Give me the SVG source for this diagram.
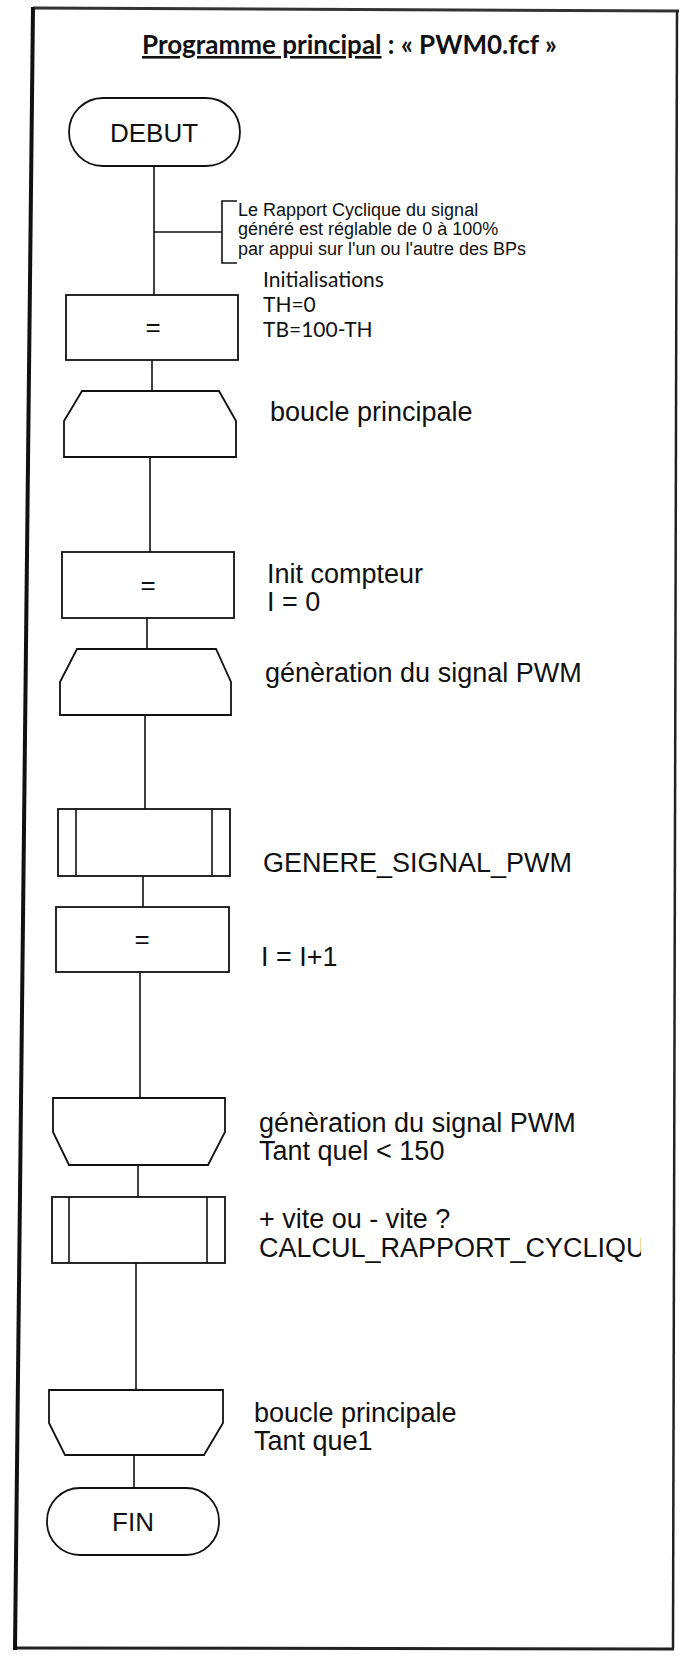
<svg xmlns="http://www.w3.org/2000/svg" width="680" height="1659" viewBox="0 0 680 1659">
<style>
.shape{fill:#fff;stroke:#111;stroke-width:1.8}
.conn{fill:none;stroke:#111;stroke-width:1.6}
.lbl{font-family:"Liberation Sans",Arial,sans-serif;font-size:27px;fill:#111}
.cmt{font-family:"Liberation Sans",Arial,sans-serif;font-size:18px;fill:#111}
.cal{font-family:Lato,"Open Sans",sans-serif;font-size:21px;fill:#111}
.ctr{font-family:"Liberation Sans",Arial,sans-serif;fill:#111;text-anchor:middle}
</style>
<defs>
<clipPath id="clipR"><rect x="0" y="0" width="641" height="1659"/></clipPath>
</defs>
<rect x="0" y="0" width="680" height="1659" fill="#fff"/>
<g id="frame">
<line x1="33" y1="8" x2="679" y2="11" stroke="#333" stroke-width="3"/>
<line x1="677" y1="10" x2="673" y2="1648" stroke="#222" stroke-width="2.5"/>
<line x1="15" y1="1648" x2="674" y2="1649" stroke="#222" stroke-width="3"/>
<line x1="33" y1="7" x2="15" y2="1650" stroke="#111" stroke-width="4"/>
</g>
<g id="title">
<text x="142" y="54" font-family="Lato,'Open Sans',sans-serif" font-size="26" font-weight="bold" fill="#111"><tspan text-decoration="underline">Programme principal</tspan> : « PWM0.fcf »</text>
</g>
<g id="connectors">
<line class="conn" x1="154" y1="166" x2="154" y2="295"/>
<line class="conn" x1="154" y1="232" x2="222" y2="232"/>
<line class="conn" x1="152" y1="360" x2="152" y2="391"/>
<line class="conn" x1="150" y1="457" x2="150" y2="552"/>
<line class="conn" x1="147" y1="618" x2="147" y2="649"/>
<line class="conn" x1="145" y1="715" x2="145" y2="809"/>
<line class="conn" x1="143" y1="876" x2="143" y2="907"/>
<line class="conn" x1="140" y1="972" x2="140" y2="1098"/>
<line class="conn" x1="138" y1="1165" x2="138" y2="1197"/>
<line class="conn" x1="136" y1="1263" x2="136" y2="1390"/>
<line class="conn" x1="134" y1="1455" x2="134" y2="1488"/>
</g>
<g id="debut">
<rect class="shape" x="69" y="98" width="171" height="68" rx="34"/>
<text class="ctr" x="154" y="142" font-size="26">DEBUT</text>
</g>
<g id="comment">
<path class="conn" d="M237,201 H222 V263 H237"/>
<text class="cmt" x="238" y="216">Le Rapport Cyclique du signal</text>
<text class="cmt" x="238" y="235">généré est réglable de 0 à 100%</text>
<text class="cmt" x="238" y="255">par appui sur l'un ou l'autre des BPs</text>
</g>
<g id="init">
<rect class="shape" x="66" y="295" width="172" height="65"/>
<text class="ctr" x="153" y="336" font-size="26">=</text>
<text class="cal" x="263" y="287">Initialisations</text>
<text class="cal" x="263" y="312">TH=0</text>
<text class="cal" x="263" y="337">TB=100-TH</text>
</g>
<g id="loop1-start">
<path class="shape" d="M82,391 H219 L236,421 V457 H64 V421 Z"/>
<text class="lbl" x="270" y="421">boucle principale</text>
</g>
<g id="init-compteur">
<rect class="shape" x="62" y="552" width="172" height="66"/>
<text class="ctr" x="148" y="594" font-size="26">=</text>
<text class="lbl" x="267" y="583">Init compteur</text>
<text class="lbl" x="267" y="611">I = 0</text>
</g>
<g id="loop2-start">
<path class="shape" d="M77,649 H216 L231,682 V715 H60 V682 Z"/>
<text class="lbl" x="265" y="682">génèration du signal PWM</text>
</g>
<g id="genere">
<rect class="shape" x="58" y="809" width="172" height="67"/>
<line class="conn" x1="76" y1="809" x2="76" y2="876"/>
<line class="conn" x1="212" y1="809" x2="212" y2="876"/>
<text class="lbl" x="263" y="872">GENERE_SIGNAL_PWM</text>
</g>
<g id="increment">
<rect class="shape" x="56" y="907" width="173" height="65"/>
<text class="ctr" x="142" y="948" font-size="26">=</text>
<text class="lbl" x="261" y="966">I = I+1</text>
</g>
<g id="loop2-end">
<path class="shape" d="M53,1098 H225 V1132 L208,1165 H69 L53,1132 Z"/>
<text class="lbl" x="259" y="1132">génèration du signal PWM</text>
<text class="lbl" x="259" y="1160">Tant quel &lt; 150</text>
</g>
<g id="calcul">
<rect class="shape" x="52" y="1197" width="173" height="66"/>
<line class="conn" x1="69" y1="1197" x2="69" y2="1263"/>
<line class="conn" x1="207" y1="1197" x2="207" y2="1263"/>
<text class="lbl" x="259" y="1228">+ vite ou - vite ?</text>
<text class="lbl" x="259" y="1257" clip-path="url(#clipR)">CALCUL_RAPPORT_CYCLIQU</text>
</g>
<g id="loop1-end">
<path class="shape" d="M49,1390 H223 V1423 L204,1455 H65 L49,1423 Z"/>
<text class="lbl" x="254" y="1422">boucle principale</text>
<text class="lbl" x="254" y="1450">Tant que1</text>
</g>
<g id="fin">
<rect class="shape" x="47" y="1488" width="172" height="67" rx="33"/>
<text class="ctr" x="133" y="1531" font-size="26">FIN</text>
</g>
</svg>
